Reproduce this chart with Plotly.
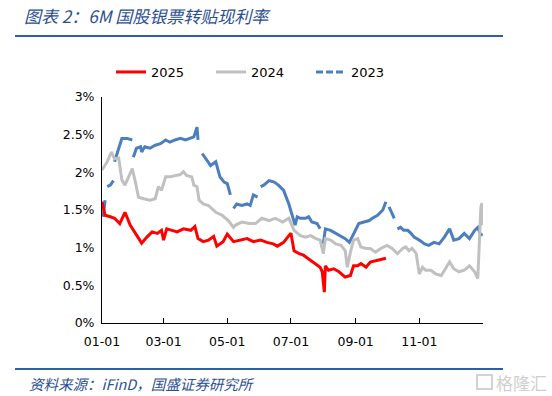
import pandas as pd
import plotly.graph_objects as go

# ---- data (day of year offset, rate %) ----
days_2025 = [0, 3, 8, 12, 17, 22, 27, 32, 38, 43, 48, 53, 57, 59, 62, 67, 72, 78, 85, 89, 92,
             97, 102, 107, 110, 116, 120, 126, 133, 139, 145, 152, 158, 164, 168, 174, 179, 181,
             184, 189, 193, 200, 205, 209, 211, 213, 214, 217, 222, 227, 233, 238, 241, 245,
             248, 253, 257, 262, 267, 272]
rate_2025 = [1.61, 1.43, 1.41, 1.39, 1.32, 1.47, 1.30, 1.19, 1.06, 1.14, 1.21, 1.19, 1.23, 1.10,
             1.25, 1.23, 1.21, 1.25, 1.23, 1.28, 1.12, 1.08, 1.10, 1.15, 1.02, 1.08, 1.18, 1.08,
             1.10, 1.12, 1.08, 1.10, 1.07, 1.05, 1.02, 1.07, 1.16, 1.19, 0.96, 0.92, 0.90, 0.83,
             0.79, 0.74, 0.68, 0.41, 0.76, 0.70, 0.72, 0.68, 0.61, 0.63, 0.76, 0.76, 0.79, 0.74,
             0.81, 0.83, 0.85, 0.86]

days_2024 = [0, 5, 9, 12, 16, 19, 22, 25, 29, 32, 35, 40, 46, 51, 54, 57, 61, 65, 70, 75, 78,
             81, 86, 88, 91, 93, 97, 102, 109, 115, 121, 126, 128, 134, 141, 147, 153, 160, 166,
             173, 179, 184, 190, 195, 200, 205, 209, 212, 214, 219, 224, 229, 233, 235, 238,
             241, 245, 248, 253, 257, 262, 267, 273, 278, 283, 288, 291, 294, 297, 301, 304,
             307, 310, 315, 320, 325, 329, 333, 337, 342, 347, 352, 357, 360, 363, 364, 365]
rate_2024 = [2.03, 2.14, 2.27, 2.18, 2.19, 1.90, 1.83, 1.92, 2.05, 1.87, 1.67, 1.65, 1.63, 1.65,
             1.81, 1.76, 1.94, 1.94, 1.96, 1.97, 2.01, 1.96, 1.94, 1.83, 1.81, 1.63, 1.58, 1.56,
             1.47, 1.43, 1.36, 1.27, 1.30, 1.34, 1.32, 1.32, 1.39, 1.36, 1.39, 1.34, 1.39, 1.23,
             1.16, 1.14, 1.16, 1.12, 1.10, 0.92, 1.12, 1.10, 1.05, 1.03, 0.96, 0.74, 0.94, 1.10,
             1.12, 1.01, 0.99, 0.99, 0.94, 0.99, 1.03, 0.99, 0.92, 0.99, 1.01, 0.96, 0.99, 0.92,
             0.65, 0.74, 0.70, 0.70, 0.65, 0.63, 0.72, 0.81, 0.72, 0.68, 0.70, 0.76, 0.68, 0.59,
             1.54, 1.59, 1.30]

# None marks a break in the 2023 line
days_2023 = [1, 3, 4, 5, 8, 11, 11.5, 12, 16, 19, 24, 29, 29.5, 30, 33, 37, 38, 41, 46, 51, 56,
             61, 65, 70, 75, 80, 85, 88, 91, 92, 94, 96, 101, 104, 109, 113, 117, 120, 123,
             124.5, 126, 129, 134, 139, 142, 145, 149, 150, 152, 155, 160, 165, 169, 174, 179,
             182, 185, 187, 190, 195, 198, 201, 206, 209, 210.5, 212, 214, 219, 224, 229, 233,
             237, 240, 243, 246, 251, 256, 259, 264, 269, 272, 273.5, 275, 280, 281.5, 283,
             286, 289, 293, 296, 299, 304, 309, 313, 318, 323, 328, 333, 337, 342, 347, 352,
             357, 360, 363, 364]
rate_2023 = [1.41, 1.63, None, 1.81, 1.83, 1.89, None, 2.14, 2.32, 2.45, 2.45, 2.43, None, 2.20,
             2.32, 2.34, 2.27, 2.34, 2.32, 2.36, 2.38, 2.43, 2.40, 2.43, 2.45, 2.43, 2.45, 2.47,
             2.60, 2.43, None, 2.25, 2.16, 2.09, 2.14, 1.94, 1.87, 1.85, 1.70, None, 1.52, 1.58,
             1.56, 1.58, 1.56, 1.70, 1.67, None, 1.81, 1.83, 1.89, 1.87, 1.83, 1.76, 1.58, 1.43,
             1.30, 1.41, 1.39, 1.39, 1.41, 1.34, 1.32, 1.25, None, 1.05, 1.25, 1.23, 1.19, 1.16,
             1.12, 1.07, 1.16, 1.25, 1.32, 1.34, 1.36, 1.39, 1.43, 1.50, 1.61, None, 1.54, 1.39,
             None, 1.25, 1.27, 1.23, 1.23, 1.19, 1.14, 1.10, 1.05, 1.03, 1.07, 1.05, 1.14, 1.25,
             1.10, 1.12, 1.19, 1.12, 1.23, 1.27, 1.16, 1.19]

tick_dates = ["2023-01-01", "2023-03-01", "2023-05-01", "2023-07-01", "2023-09-01",
              "2023-11-01", "2024-01-01"]
tick_labels = ["01-01", "03-01", "05-01", "07-01", "09-01", "11-01", ""]
y_ticks = [0, 0.5, 1, 1.5, 2, 2.5, 3]
y_labels = ["0%", "0.5%", "1%", "1.5%", "2%", "2.5%", "3%"]

base = pd.Timestamp("2023-01-01")


def to_dates(days):
    return base + pd.to_timedelta(days, unit="D")


RED = "#ff0000"
GRAY = "#c0c0c0"
BLUE = "#4a7ebf"
TEXT_BLUE = "#2b4f93"

W, H = 552, 396
L, R, T, B = 102, 483, 97, 323  # plot area in pixels


def px(x):
    return (x - L) / (R - L)


def py(y):
    return (B - y) / (B - T)


fig = go.Figure()
fig.add_trace(go.Scatter(x=to_dates(days_2023), y=rate_2023, mode="lines",
                         line=dict(color=BLUE, width=3), connectgaps=False,
                         showlegend=False, hoverinfo="skip"))
fig.add_trace(go.Scatter(x=to_dates(days_2024), y=rate_2024, mode="lines", name="2024",
                         line=dict(color=GRAY, width=3), legendrank=2))
fig.add_trace(go.Scatter(x=to_dates(days_2025), y=rate_2025, mode="lines", name="2025",
                         line=dict(color=RED, width=3), legendrank=1))
fig.add_trace(go.Scatter(x=[None], y=[None], mode="lines", name="2023",
                         line=dict(color=BLUE, width=3, dash="7px,3px"), legendrank=3))

fig.update_layout(
    width=W, height=H,
    margin=dict(l=L, r=W - R, t=T, b=H - B, autoexpand=False),
    paper_bgcolor="white", plot_bgcolor="white",
    font=dict(family="DejaVu Sans", size=12.5, color="#000000"),
    showlegend=True,
    legend=dict(orientation="h", xref="paper", yref="paper",
                x=px(111), xanchor="left", y=py(72), yanchor="middle",
                font=dict(size=13, family="DejaVu Sans"),
                entrywidth=55, entrywidthmode="pixels",
                bgcolor="rgba(0,0,0,0)", tracegroupgap=0),
    xaxis=dict(type="date", range=["2023-01-01", "2024-01-01"],
               tickvals=tick_dates, ticktext=tick_labels,
               ticks="inside", ticklen=5, tickcolor="#000000", tickwidth=1,
               showline=True, linecolor="#000000", linewidth=1,
               showgrid=False, zeroline=False, ticklabelstandoff=7),
    yaxis=dict(range=[0, 3], tickvals=y_ticks, ticktext=y_labels,
               ticks="", showline=True, linecolor="#000000", linewidth=1,
               showgrid=False, zeroline=False, ticklabelstandoff=4),
)

# title, rules, source
fig.add_annotation(xref="paper", yref="paper", x=px(22), y=py(15), showarrow=False,
                   text="<i>图表 2：6M 国股银票转贴现利率</i>",
                   font=dict(family="Noto Sans CJK SC", size=17, color=TEXT_BLUE),
                   xanchor="left", yanchor="middle")
for yy in (36, 369):
    fig.add_shape(type="line", xref="paper", yref="paper",
                  x0=px(15), x1=px(503), y0=py(yy), y1=py(yy),
                  line=dict(color="#2e5ea8", width=2))
fig.add_annotation(xref="paper", yref="paper", x=px(27), y=py(383),
                   showarrow=False, xanchor="left", yanchor="middle",
                   text="<i>资料来源：iFinD，国盛证券研究所</i>",
                   font=dict(family="Noto Sans CJK SC", size=14.5, color=TEXT_BLUE))
# watermark
fig.add_shape(type="rect", xref="paper", yref="paper",
              x0=px(477), x1=px(492), y0=py(389), y1=py(375),
              line=dict(color="#d2d2d2", width=2), fillcolor="rgba(0,0,0,0)")
fig.add_annotation(xref="paper", yref="paper", x=px(549), y=py(382),
                   showarrow=False, xanchor="right", yanchor="middle",
                   text="格隆汇",
                   font=dict(family="Noto Sans CJK SC", size=17, color="#cfcfcf"))

fig.write_html("out.html", config={"displayModeBar": False},
               post_script="document.body.style.margin='0';document.body.style.padding='0';")
